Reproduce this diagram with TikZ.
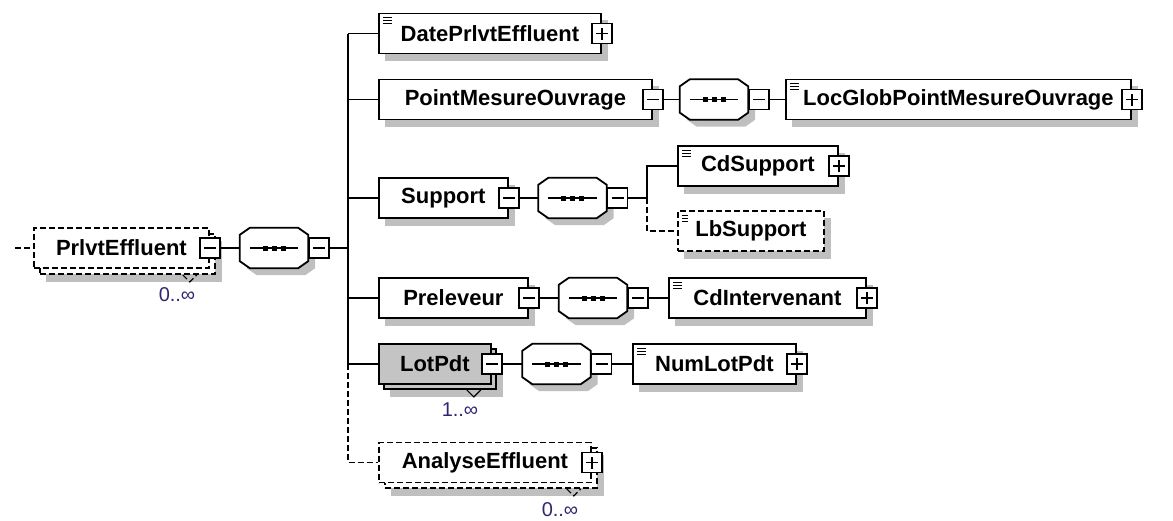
\documentclass[tikz,border=0pt]{standalone}
\usepackage{fontspec}
\setmainfont{Liberation Sans}
\usepackage{xcolor}
\usepackage{tikz}
\usetikzlibrary{positioning}

\colorlet{boxshade}{black!25}
\definecolor{lotgray}{RGB}{196,196,196}
\definecolor{occcolor}{RGB}{52,36,112}

\tikzset{
  elembox/.style={rectangle,draw=black,fill=white,line width=1.8pt,minimum height=40pt,inner sep=0pt,anchor=west,font=\fontsize{22}{26}\selectfont\bfseries},
  shadowbox/.style={rectangle,draw=none,fill=boxshade,minimum height=41pt,inner sep=0pt,anchor=west},
  optdash/.style={dash pattern=on 6pt off 3pt},
  docmark/.style={path picture={\foreach \k in {4,7,10} \draw[line width=1pt] ([xshift=4pt,yshift=-\k pt]path picture bounding box.north west) -- ++(9pt,0pt);}},
  signbox/.style={rectangle,draw=black,fill=white,line width=1.6pt,minimum size=20pt,inner sep=0pt},
  minusbtn/.style={signbox,path picture={\draw[line width=1.6pt] ([xshift=4pt]path picture bounding box.west) -- ([xshift=-4pt]path picture bounding box.east);}},
  plusbtn/.style={signbox,path picture={\draw[line width=1.6pt] ([xshift=4pt]path picture bounding box.west) -- ([xshift=-4pt]path picture bounding box.east) ([yshift=4pt]path picture bounding box.south) -- ([yshift=-4pt]path picture bounding box.north);}},
  seqbox/.style={rectangle,minimum width=68pt,minimum height=40pt,inner sep=0pt},
  octpath/.style={insert path={([yshift=-7pt]#1.north west) -- ([xshift=10pt]#1.north west) -- ([xshift=-10pt]#1.north east) -- ([yshift=-7pt]#1.north east) -- ([yshift=7pt]#1.south east) -- ([xshift=-10pt]#1.south east) -- ([xshift=10pt]#1.south west) -- ([yshift=7pt]#1.south west) -- cycle}},
  seqmark/.style={insert path={([xshift=10pt]#1.west) -- ([xshift=-10pt]#1.east)}},
  octline/.style={draw=black,fill=white,line width=1.8pt},
  conn/.style={line width=1.8pt},
  occ/.style={font=\fontsize{20}{24}\selectfont,text=occcolor}
}

\begin{document}
\begin{tikzpicture}[x=1pt,y=-1pt]
\useasboundingbox (0,0) rectangle (1173,520);

% root element
\coordinate (rootin) at (15,248);
\node[shadowbox,minimum width=176pt] (rootsh) at (46,261) {};
\node[elembox,optdash,minimum width=175pt] (rootback) at (39,254) {};
\node[elembox,optdash,minimum width=175pt] (root) at (33,248) {PrlvtEffluent};
\node[minusbtn] (rootm) at (root.east) {};
\draw[line width=1.2pt,optdash] ([xshift=-33pt]rootback.south east) -- ++(7pt,-7pt) -- ++(7pt,7pt);
\node[occ] (rootocc) at (177,295) {0..∞};
\path[conn,optdash] (rootin) edge (root);
\node[seqbox] (rootsq) at (274,248) {};

% bus
\coordinate (b0) at (348,248);
\coordinate (b1) at (348,33.5);
\coordinate (b2) at (348,99.5);
\coordinate (b3) at (348,198);
\coordinate (b4) at (348,298);
\coordinate (b5) at (348,364);

% children
\node[shadowbox,minimum width=223pt] (datesh) at (385,40.5) {};
\node[elembox,docmark,minimum width=222pt] (date) at (378,33.5) {DatePrlvtEffluent};
\node[plusbtn] (datep) at (date.east) {};

\node[shadowbox,minimum width=274pt] (pointsh) at (385,106.5) {};
\node[elembox,minimum width=273pt] (point) at (378,99.5) {PointMesureOuvrage};
\node[minusbtn] (pointm) at (point.east) {};
\node[seqbox] (pointsq) at (714,99.5) {};
\node[shadowbox,minimum width=346pt] (locsh) at (792,106.5) {};
\node[elembox,docmark,minimum width=345pt] (loc) at (785,99.5) {LocGlobPointMesureOuvrage};
\node[plusbtn] (locp) at (loc.east) {};

\node[shadowbox,minimum width=130pt] (suppsh) at (385,205) {};
\node[elembox,minimum width=129pt] (supp) at (378,198) {Support};
\node[minusbtn] (suppm) at (supp.east) {};
\node[seqbox] (suppsq) at (572.5,198) {};
\coordinate (sb) at (647,198);
\node[shadowbox,minimum width=161pt] (cdsupsh) at (684,173) {};
\node[elembox,docmark,minimum width=160pt] (cdsup) at (677,166) {CdSupport};
\node[plusbtn] (cdsupp) at (cdsup.east) {};
\node[shadowbox,minimum width=147pt] (lbsupsh) at (684,238) {};
\node[elembox,docmark,optdash,minimum width=146pt] (lbsup) at (677,231) {LbSupport};
\draw[conn] (sb) |- (cdsup);
\draw[conn,optdash] (sb) |- (lbsup);

\node[shadowbox,minimum width=150pt] (prelsh) at (385,305) {};
\node[elembox,minimum width=149pt] (prel) at (378,298) {Preleveur};
\node[minusbtn] (prelm) at (prel.east) {};
\node[seqbox] (prelsq) at (593,298) {};
\node[shadowbox,minimum width=198pt] (cdintsh) at (675,305) {};
\node[elembox,docmark,minimum width=197pt] (cdint) at (668,298) {CdIntervenant};
\node[plusbtn] (cdintp) at (cdint.east) {};

\node[shadowbox,minimum width=113pt] (lotsh) at (390,376) {};
\node[elembox,fill=lotgray,minimum width=112pt] (lotback) at (383,369) {};
\node[elembox,fill=lotgray,minimum width=112pt] (lot) at (378,364) {LotPdt};
\node[minusbtn] (lotm) at (lot.east) {};
\draw[line width=1.2pt] ([xshift=-30pt]lotback.south east) -- ++(7pt,-7pt) -- ++(7pt,7pt);
\node[occ] (lotocc) at (460,410) {1..∞};
\node[seqbox] (lotsq) at (556.5,364) {};
\node[shadowbox,minimum width=164pt] (numlotsh) at (639,371) {};
\node[elembox,docmark,minimum width=163pt] (numlot) at (632,364) {NumLotPdt};
\node[plusbtn] (numlotp) at (numlot.east) {};

\node[shadowbox,minimum width=213pt] (analsh) at (391,475) {};
\node[elembox,optdash,minimum width=212pt] (analback) at (384,468) {};
\node[elembox,optdash,minimum width=212pt] (anal) at (378,462.5) {AnalyseEffluent};
\node[plusbtn] (analp) at (anal.east) {};
\draw[line width=1.2pt,optdash] ([xshift=-31pt]analback.south east) -- ++(7pt,-7pt) -- ++(7pt,7pt);
\node[occ] (analocc) at (560,510) {0..∞};

% sequence octagons
\foreach \s in {rootsq,pointsq,suppsq,prelsq,lotsq}{
  \fill[boxshade,transform canvas={shift={(7pt,-7pt)}},octpath=\s];
  \path[octline,octpath=\s];
  \draw[line width=1.6pt,seqmark=\s];
  \foreach \k in {-9,0,9} \fill ([xshift=\k pt]\s.center) ++(-2.5pt,2.5pt) rectangle ++(5pt,-5pt);
}
\node[minusbtn,right=0pt of rootsq] (rootsqm) {};
\node[minusbtn,right=0pt of pointsq] (pointsqm) {};
\node[minusbtn,right=0pt of suppsq] (suppsqm) {};
\node[minusbtn,right=0pt of prelsq] (prelsqm) {};
\node[minusbtn,right=0pt of lotsq] (lotsqm) {};

% connectors
\path[conn] (rootm) edge (rootsq) (rootsqm) edge (b0);
\path[conn] (pointm) edge (pointsq) (pointsqm) edge (loc);
\path[conn] (suppm) edge (suppsq) (suppsqm) edge (sb);
\path[conn] (prelm) edge (prelsq) (prelsqm) edge (cdint);
\path[conn] (lotm) edge (lotsq) (lotsqm) edge (numlot);
\draw[conn] (b1) -- (b5);
\draw[conn,optdash] (b5) |- (anal);
\path[conn] (b1) edge (date) (b2) edge (point) (b3) edge (supp) (b4) edge (prel) (b5) edge (lot);
\end{tikzpicture}
\end{document}
